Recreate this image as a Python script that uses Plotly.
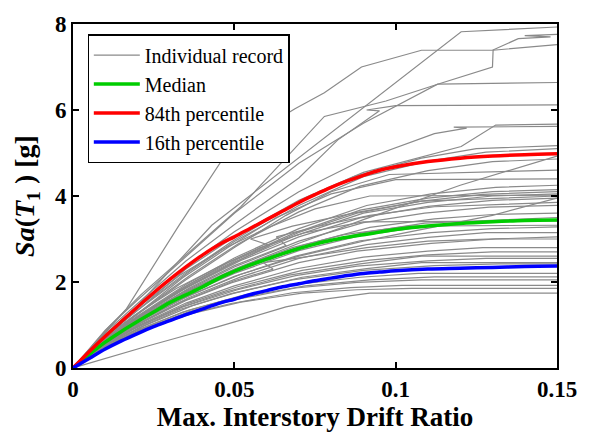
import plotly.graph_objects as go

# Incremental dynamic analysis: spectral acceleration vs. peak interstory drift
record_drift = [
    [0, .012, .024, .036, .0445, .056, .066, .078, .092, .15],
    [0, .011, .021, .037, .052, .071, .088, .105, .15],
    [0, .009, .019, .034, .049, .068, .086, .102, .15],
    [0, .010, .021, .036, .051, .069, .088, .108, .15],
    [0, .011, .020, .034, .048, .072, .092, .112, .15],
    [0, .009, .019, .036, .052, .070, .089, .107, .15],
    [0, .010, .020, .033, .050, .068, .090, .112, .132, .15],
    [0, .011, .022, .037, .049, .071, .091, .108, .15],
    [0, .010, .019, .034, .051, .069, .088, .110, .128, .15],
    [0, .008, .018, .033, .047, .067, .089, .108, .15],
    [0, .010, .021, .036, .051, .071, .092, .110, .130, .15],
    [0, .011, .020, .035, .050, .068, .090, .110, .127, .15],
    [0, .010, .021, .035, .049, .070, .088, .111, .131, .15],
    [0, .009, .019, .033, .050, .062, .059, .070, .091, .110, .15],
    [0, .010, .020, .036, .052, .070, .091, .110, .128, .15],
    [0, .011, .020, .034, .050, .069, .089, .111, .130, .15],
    [0, .010, .021, .035, .050, .070, .089, .110, .131, .15],
    [0, .009, .020, .036, .051, .069, .090, .109, .15],
    [0, .010, .019, .034, .049, .071, .092, .112, .130, .15],
    [0, .011, .021, .035, .050, .070, .090, .109, .129, .15],
    [0, .010, .020, .036, .050, .066, .063, .075, .092, .112, .15],
    [0, .010, .020, .034, .052, .070, .089, .110, .130, .15],
    [0, .011, .022, .037, .050, .061, .055, .068, .088, .108, .15],
    [0, .009, .019, .035, .049, .069, .090, .110, .130, .15],
    [0, .010, .021, .036, .051, .070, .088, .108, .127, .15],
    [0, .011, .020, .033, .048, .068, .089, .110, .130, .15],
    [0, .010, .021, .036, .052, .070, .090, .110, .130, .15],
    [0, .010, .020, .035, .050, .070, .091, .111, .131, .15],
    [0, .010, .021, .035, .050, .066, .080, .098, .15],
    [0, .011, .022, .036, .051, .070, .089, .110, .130, .15],
    [0, .010, .020, .035, .050, .070, .090, .120, .15],
    [0, .010, .020, .036, .050, .070, .090, .110, .128, .15],
    [0, .011, .021, .034, .049, .068, .087, .108, .125, .15],
    [0, .010, .019, .034, .050, .070, .090, .112, .122, .118, .15],
    [0, .011, .021, .035, .050, .070, .090, .1203, .131, .15],
    [0, .010, .020, .035, .051, .070, .082, .095, .091, .100, .15],
    [0, .010, .020, .036, .050, .070, .090, .113, .15],
    [0, .011, .021, .036, .052, .0779, .097, .113, .130, .1302, .15],
    [0, .0164, .0327, .0485, .0688, .0779, .0894, .108, .130, .138, .148, .140, .15],
    [0, .010, .020, .043, .1203, .130, .15],
    [0, .010, .020, .033, .046, .060, .075, .092, .15],
    [0, .011, .021, .034, .048, .063, .080, .100, .15],
    [0, .010, .019, .032, .045, .058, .072, .090, .15],
    [0, .010, .020, .036, .052, .068, .084, .104, .15],
]
record_sa = [
    [0, .27, .53, .78, .95, 1.20, 1.42, 1.60, 1.74, 1.74],
    [0, .50, .86, 1.27, 1.53, 1.74, 1.82, 1.85, 1.85],
    [0, .43, .81, 1.23, 1.50, 1.75, 1.87, 1.92, 1.92],
    [0, .48, .88, 1.31, 1.60, 1.86, 1.99, 2.05, 2.05],
    [0, .52, .87, 1.30, 1.59, 1.91, 2.05, 2.12, 2.12],
    [0, .45, .86, 1.35, 1.68, 1.95, 2.11, 2.20, 2.20],
    [0, .52, .92, 1.36, 1.74, 2.05, 2.27, 2.38, 2.42, 2.42],
    [0, .56, .98, 1.45, 1.73, 2.11, 2.31, 2.45, 2.45],
    [0, .52, .92, 1.42, 1.82, 2.15, 2.37, 2.49, 2.55, 2.55],
    [0, .45, .88, 1.40, 1.76, 2.16, 2.42, 2.60, 2.60],
    [0, .54, 1.00, 1.51, 1.89, 2.27, 2.51, 2.63, 2.70, 2.70],
    [0, .59, .98, 1.51, 1.91, 2.29, 2.58, 2.72, 2.80, 2.80],
    [0, .56, 1.04, 1.57, 1.98, 2.45, 2.72, 2.90, 3.00, 3.00],
    [0, .52, .98, 1.52, 2.03, 2.30, 2.45, 2.56, 2.80, 2.95, 3.05],
    [0, .57, 1.03, 1.64, 2.12, 2.55, 2.87, 3.04, 3.15, 3.15],
    [0, .64, 1.06, 1.62, 2.13, 2.60, 2.96, 3.15, 3.24, 3.28],
    [0, .60, 1.12, 1.70, 2.20, 2.73, 3.08, 3.30, 3.42, 3.45],
    [0, .55, 1.09, 1.75, 2.26, 2.75, 3.15, 3.37, 3.50],
    [0, .61, 1.05, 1.72, 2.24, 2.85, 3.27, 3.47, 3.57, 3.60],
    [0, .69, 1.18, 1.80, 2.35, 2.95, 3.38, 3.60, 3.74, 3.78],
    [0, .64, 1.14, 1.86, 2.38, 2.85, 3.05, 3.28, 3.55, 3.75, 3.85],
    [0, .64, 1.16, 1.82, 2.50, 3.05, 3.49, 3.76, 3.90, 3.95],
    [0, .72, 1.27, 1.95, 2.45, 2.85, 3.00, 3.30, 3.62, 3.88, 4.00],
    [0, .58, 1.12, 1.88, 2.43, 3.08, 3.60, 3.85, 4.00, 4.05],
    [0, .66, 1.23, 1.95, 2.53, 3.15, 3.60, 3.88, 4.04, 4.10],
    [0, .72, 1.19, 1.82, 2.45, 3.12, 3.67, 3.95, 4.10, 4.15],
    [0, .60, 1.10, 1.68, 2.18, 2.60, 2.95, 3.25, 3.55, 3.95],
    [0, .67, 1.21, 1.94, 2.56, 3.24, 3.78, 4.05, 4.20, 4.25],
    [0, .70, 1.30, 2.05, 2.80, 3.55, 4.10, 4.50, 4.60],
    [0, .79, 1.38, 2.14, 2.88, 3.63, 4.23, 4.59, 4.80, 4.86],
    [0, .62, 1.12, 1.78, 2.30, 2.90, 3.45, 4.25, 4.93],
    [0, .74, 1.34, 2.24, 2.94, 3.78, 4.45, 4.81, 5.02, 5.10],
    [0, .82, 1.41, 2.16, 2.93, 3.78, 4.45, 4.88, 5.10, 5.17],
    [0, .79, 1.37, 2.30, 3.17, 4.10, 4.85, 5.45, 5.58, 5.60, 5.62],
    [0, .80, 1.40, 2.30, 3.05, 3.90, 4.55, 5.15, 5.65, 5.67],
    [0, .83, 1.50, 2.49, 3.39, 4.42, 5.30, 5.98, 6.00, 6.10, 6.12],
    [0, .88, 1.58, 2.65, 3.60, 4.76, 5.69, 6.60, 6.64],
    [0, .95, 1.70, 2.70, 3.75, 5.85, 6.21, 6.60, 7.00, 7.39, 7.52],
    [0, 1.36, 3.30, 5.10, 6.03, 6.40, 7.00, 7.39, 7.39, 7.66, 7.70, 7.73, 7.76],
    [0, .75, 1.45, 3.32, 7.82, 7.86, 7.93],
    [0, .74, 1.40, 2.15, 2.75, 3.25, 3.70, 4.00, 4.02],
    [0, .70, 1.32, 2.10, 2.80, 3.50, 4.05, 4.38, 4.40],
    [0, .68, 1.22, 1.85, 2.35, 2.80, 3.15, 3.40, 3.42],
    [0, .62, 1.15, 1.80, 2.35, 2.80, 3.10, 3.30, 3.32],
]

# Percentile curves of the record set
pct_drift = [0, .005, .01, .015, .02, .025, .03, .035, .04, .046, .05, .055, .06,
             .065, .07, .075, .08, .085, .09, .095, .10, .11, .12, .13, .14, .15]
sa_median = [0, .31, .60, .85, 1.08, 1.30, 1.52, 1.70, 1.88, 2.12, 2.25, 2.40, 2.53,
             2.66, 2.78, 2.88, 2.97, 3.04, 3.10, 3.16, 3.22, 3.30, 3.36, 3.40, 3.43, 3.44]
sa_p84 = [0, .38, .74, 1.08, 1.42, 1.75, 2.06, 2.35, 2.62, 2.90, 3.05, 3.25, 3.45,
          3.65, 3.85, 4.03, 4.20, 4.35, 4.48, 4.60, 4.68, 4.80, 4.88, 4.93, 4.96, 4.98]
sa_p16 = [0, .22, .44, .63, .80, .96, 1.10, 1.24, 1.37, 1.52, 1.60, 1.71, 1.80,
          1.89, 1.96, 2.03, 2.09, 2.15, 2.20, 2.23, 2.26, 2.30, 2.32, 2.34, 2.36, 2.37]

SERIF = "'Liberation Serif', 'Times New Roman', Times, serif"
fig = go.Figure()

for i, (d, s) in enumerate(zip(record_drift, record_sa)):
    fig.add_trace(go.Scatter(
        x=d, y=s, mode="lines",
        line=dict(color="rgb(138,138,138)", width=1.2),
        name="Individual record", legendgroup="records",
        showlegend=(i == 0), hoverinfo="skip",
    ))

for name, vals, color in [("Median", sa_median, "rgb(0,205,0)"),
                          ("84th percentile", sa_p84, "rgb(255,0,0)"),
                          ("16th percentile", sa_p16, "rgb(0,0,255)")]:
    fig.add_trace(go.Scatter(
        x=pct_drift, y=vals, mode="lines", name=name,
        line=dict(color=color, width=3.5, shape="spline"),
    ))

axis_common = dict(
    showline=True, linecolor="black", linewidth=1.6, mirror="ticks",
    ticks="inside", ticklen=6, tickwidth=1.5, tickcolor="black",
    showgrid=False, zeroline=False,
    tickfont=dict(family=SERIF, size=23, color="black", weight="bold"),
)

fig.update_xaxes(
    range=[0, 0.15], tickvals=[0, 0.05, 0.1, 0.15], ticktext=["0", "0.05", "0.1", "0.15"],
    title=dict(text="Max. Interstory Drift Ratio", standoff=6,
               font=dict(family=SERIF, size=27, color="black", weight="bold")),
    **axis_common,
)
fig.update_yaxes(
    range=[0, 8], tickvals=[0, 2, 4, 6, 8],
    title=dict(text="<i>Sa</i>(<i>T</i><sub>1</sub> ) [g]", standoff=12,
               font=dict(family=SERIF, size=28, color="black", weight="bold")),
    **axis_common,
)

fig.update_layout(
    width=589, height=439,
    margin=dict(l=73, r=21, t=16, b=69),
    paper_bgcolor="white", plot_bgcolor="white",
    legend=dict(
        x=0.03, y=0.97, xanchor="left", yanchor="top",
        bgcolor="white", bordercolor="black", borderwidth=1.3,
        font=dict(family=SERIF, size=20, color="black"),
        traceorder="normal", itemwidth=46,
    ),
)

fig.write_html("out.html")
